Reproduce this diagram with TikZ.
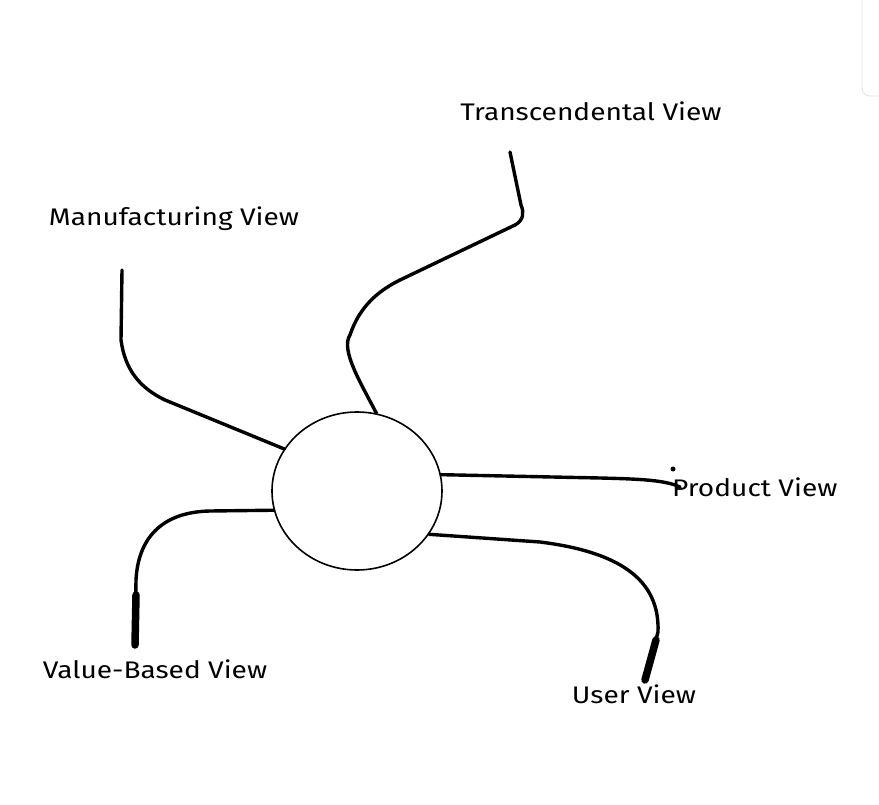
\documentclass[tikz,border=0pt]{standalone}
\usepackage{fontspec}
\usetikzlibrary{shapes.geometric}
\setmainfont{Fira Sans}[FakeStretch=1.17]
\begin{document}
\begin{tikzpicture}[x=1pt,y=-1pt,
  conn/.style={line width=3.4pt,line cap=round,line join=round},
  thickend/.style={line width=7.5pt,line cap=round},
  lbl/.style={font=\fontsize{24}{28}\selectfont,inner sep=0pt}]
\useasboundingbox (0,0) rectangle (879,805);
% UI panel edge at top right
\draw[black!12,line width=0.8pt,rounded corners=8pt] (862,-20) -- (862,96) -- (900,96);
% centre circle
\node[draw,ellipse,line width=1.6pt,minimum width=170pt,minimum height=158pt,inner sep=0pt] (c) at (357,491) {};
% labels
\node[lbl] (t) at (591,111) {Transcendental View};
\node[lbl] (m) at (174,219) {Manufacturing View};
\node[lbl,anchor=west] (p) at (672,487) {Product View};
\node[lbl] (v) at (155,669) {Value-Based View};
\node[lbl] (u) at (634,694) {User View};
% connector ends
\coordinate (tE) at (510,152);
\coordinate (mE) at (122,270);
\coordinate (pE) at (680,487);
\coordinate (uE) at (645,680);
\coordinate (vE) at (135,645);
% connectors
\draw[conn] (c.76) .. controls (362,385) and (340,350) .. (350,335)
  .. controls (360,305) and (380,290) .. (400,280)
  -- (515,225) .. controls (524,220) and (524,212) .. (521,205) -- (tE);
\draw[conn] (c.150) -- (165,400) .. controls (140,388) and (125,370) .. (121,340) -- (mE);
\draw[conn] (c.11) -- (600,478) .. controls (640,479) and (665,480) .. (pE);
\fill (673,469) circle (2.5pt);
\draw[conn] (c.-31) -- (540,542) .. controls (620,552) and (660,580) .. (658,632) -- (uE);
\draw[thickend] (656,640) -- (uE);
\draw[conn] (c.193) -- (210,511) .. controls (160,512) and (138,540) .. (136,580) -- (vE);
\draw[thickend] (136,595) -- (vE);
\end{tikzpicture}
\end{document}
